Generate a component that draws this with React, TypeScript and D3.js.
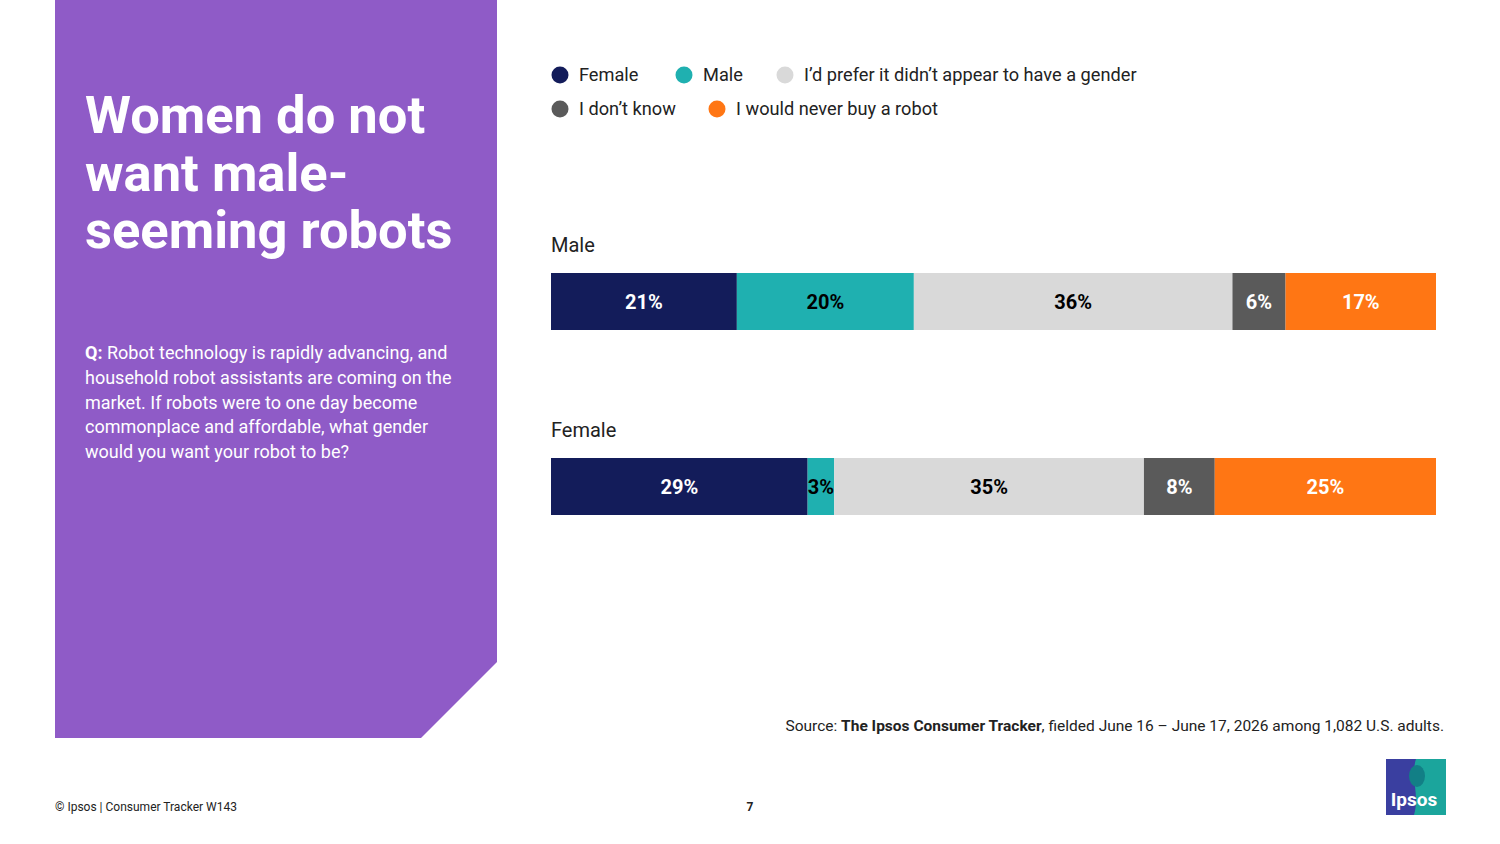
import React, { useEffect, useRef } from 'react';
import * as d3 from 'd3';

// chart data
const groups = ['Male', 'Female'];
const answers = [
  'Female',
  'Male',
  'I\u2019d prefer it didn\u2019t appear to have a gender',
  'I don\u2019t know',
  'I would never buy a robot',
];
const maleValues = [21, 20, 36, 6, 17];
const femaleValues = [29, 3, 35, 8, 25];
const colors = ['#131c5a', '#1fb0b0', '#d9d9d9', '#5a5a5a', '#ff7614'];
const labelColors = ['#fff', '#000', '#000', '#fff', '#fff'];

const titleLines = ['Women do not', 'want male-', 'seeming robots'];
const questionLines = [
  'Robot technology is rapidly advancing, and',
  'household robot assistants are coming on the',
  'market. If robots were to one day become',
  'commonplace and affordable, what gender',
  'would you want your robot to be?',
];

const FONT = 'Roboto, "Noto Sans", sans-serif';

const App = () => {
  const ref = useRef<HTMLDivElement>(null);

  useEffect(() => {
    const W = 1500;
    const H = 844;
    d3.select(ref.current).select('svg').remove();

    const svg = d3
      .select(ref.current)
      .append('svg')
      .attr('width', W)
      .attr('height', H)
      .style('display', 'block')
      .style('font-family', FONT);

    // purple side panel with cut corner
    svg.append('path')
      .attr('d', 'M55,0 H497 V662 L421,738 H55 Z')
      .attr('fill', '#8f5bc7');

    svg.append('g')
      .selectAll('text')
      .data(titleLines)
      .enter()
      .append('text')
      .attr('x', 85)
      .attr('y', (d, i) => 133 + i * 57.5)
      .attr('fill', '#fff')
      .attr('font-size', 52.5)
      .attr('font-weight', 700)
      .text(d => d);

    const q = svg.append('g').attr('fill', '#fff').attr('font-size', 18);
    questionLines.forEach((line, i) => {
      const t = q.append('text').attr('x', 85).attr('y', 359 + i * 24.8);
      if (i === 0) {
        t.append('tspan').attr('font-weight', 700).text('Q: ');
      }
      t.append('tspan').text(line);
    });

    // legend
    const legendPos = [
      [560, 75], [684, 75], [785, 75],
      [560, 109], [717, 109],
    ];
    const legend = svg.append('g');
    answers.forEach((a, i) => {
      const [lx, ly] = legendPos[i];
      legend.append('circle').attr('cx', lx).attr('cy', ly).attr('r', 8.5).attr('fill', colors[i]);
      legend.append('text')
        .attr('x', lx + 19)
        .attr('y', ly + 6)
        .attr('font-size', 18.2)
        .attr('fill', '#222')
        .text(a);
    });

    // bars
    const x = d3.scaleLinear().domain([0, 100]).range([551, 1436]);
    const y = d3.scaleBand().domain(groups).range([273, 515]).paddingInner(128 / 185).paddingOuter(0);
    const series = [maleValues, femaleValues];

    groups.forEach((g, gi) => {
      const vals = series[gi];
      const starts = d3.cumsum([0, ...vals]);
      const gy = y(g) as number;
      const bh = y.bandwidth();

      svg.append('text')
        .attr('x', 551)
        .attr('y', gy - 21)
        .attr('font-size', 20)
        .attr('fill', '#222')
        .text(g);

      const bg = svg.append('g');
      bg.selectAll('rect')
        .data(vals)
        .enter()
        .append('rect')
        .attr('x', (d, i) => x(starts[i]))
        .attr('y', gy)
        .attr('width', d => x(d) - x(0))
        .attr('height', bh)
        .attr('fill', (d, i) => colors[i]);

      bg.selectAll('text')
        .data(vals)
        .enter()
        .append('text')
        .attr('x', (d, i) => x(starts[i] + d / 2))
        .attr('y', gy + bh / 2 + 7)
        .attr('text-anchor', 'middle')
        .attr('font-size', 20)
        .attr('font-weight', 700)
        .attr('fill', (d, i) => labelColors[i])
        .text(d => `${d}%`);
    });

    // source
    const src = svg.append('text')
      .attr('x', 1444)
      .attr('y', 731)
      .attr('text-anchor', 'end')
      .attr('font-size', 15.5)
      .attr('fill', '#222');
    src.append('tspan').text('Source: ');
    src.append('tspan').attr('font-weight', 700).text('The Ipsos Consumer Tracker');
    src.append('tspan').text(', fielded June 16 \u2013 June 17, 2026 among 1,082 U.S. adults.');

    // footer
    svg.append('text')
      .attr('x', 55)
      .attr('y', 811)
      .attr('font-size', 12)
      .attr('fill', '#222')
      .text('\u00a9 Ipsos | Consumer Tracker W143');
    svg.append('text')
      .attr('x', 750)
      .attr('y', 811)
      .attr('text-anchor', 'middle')
      .attr('font-size', 12)
      .attr('font-weight', 700)
      .attr('fill', '#222')
      .text('7');

    // logo
    const logo = svg.append('g').attr('transform', 'translate(1386,759)');
    logo.append('path').attr('d', 'M0,0 H60 V56 H0 Z').attr('fill', '#1ba59c');
    logo.append('path').attr('d', 'M0,0 H30 C24,18 34,36 28,56 H0 Z').attr('fill', '#3a3fa0');
    logo.append('ellipse').attr('cx', 31).attr('cy', 17).attr('rx', 8).attr('ry', 11).attr('fill', '#127f86');
    logo.append('text')
      .attr('x', 28)
      .attr('y', 47)
      .attr('text-anchor', 'middle')
      .attr('font-size', 19)
      .attr('font-weight', 700)
      .attr('fill', '#fff')
      .text('Ipsos');
  }, []);

  return <div ref={ref} style={{ position: 'absolute', left: 0, top: 0 }}></div>;
};

export default App;
